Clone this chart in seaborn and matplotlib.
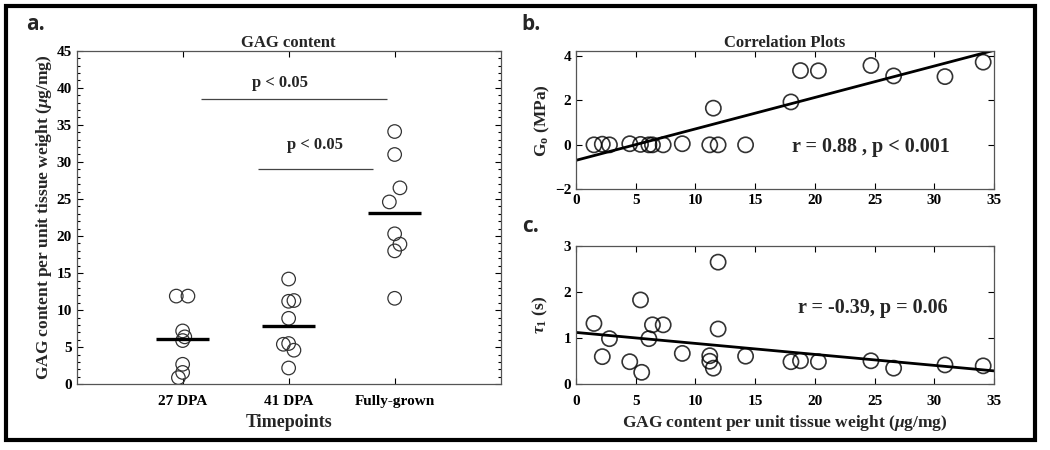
import numpy as np
import pandas as pd
import matplotlib
matplotlib.use('Agg')
import matplotlib.pyplot as plt
import seaborn as sns
from matplotlib.ticker import MultipleLocator
from matplotlib.patches import Rectangle

# panel a: GAG content per timepoint
groups = ['27 DPA', '41 DPA', 'Fully-grown']
gag_27 = [11.9, 11.9, 7.2, 6.4, 5.9, 2.7, 1.6, 0.9]
gag_41 = [14.2, 11.2, 11.3, 8.9, 5.4, 5.5, 4.6, 2.2]
gag_fg = [34.1, 31.0, 26.5, 24.6, 20.3, 18.9, 18.0, 11.6]
# horizontal spread of the circles inside each group
jit_27 = [-0.06, 0.05, 0.0, 0.02, 0.0, 0.0, 0.0, -0.04]
jit_41 = [0.0, 0.0, 0.05, 0.0, -0.05, 0.0, 0.05, 0.0]
jit_fg = [0.0, 0.0, 0.05, -0.05, 0.0, 0.05, 0.0, 0.0]

# panel b: G0 vs GAG
gag_b = [1.5, 2.2, 2.8, 4.5, 5.4, 6.1, 6.4, 7.3, 8.9, 11.2, 11.5, 11.9, 14.2,
         18.0, 18.8, 20.3, 24.7, 26.6, 30.9, 34.1]
g0 = [0.0, 0.03, 0.0, 0.05, 0.02, 0.0, 0.0, 0.0, 0.05, 0.0, 1.65, 0.0, 0.0,
      1.93, 3.34, 3.33, 3.57, 3.1, 3.07, 3.72]

# panel c: tau1 vs GAG
gag_c = [1.5, 2.2, 2.8, 4.5, 5.4, 5.5, 6.1, 6.4, 7.3, 8.9, 11.2, 11.2, 11.5,
         11.9, 11.9, 14.2, 18.0, 18.8, 20.3, 24.7, 26.6, 30.9, 34.1]
tau1 = [1.32, 0.60, 0.99, 0.49, 1.83, 0.26, 0.99, 1.29, 1.29, 0.67, 0.62, 0.50,
        0.35, 2.65, 1.20, 0.61, 0.49, 0.51, 0.49, 0.51, 0.35, 0.42, 0.40]

sns.set_theme(style='ticks')
plt.rcParams['font.family'] = ['Liberation Serif', 'DejaVu Serif']
plt.rcParams['font.weight'] = 'bold'
plt.rcParams['axes.labelweight'] = 'bold'
plt.rcParams['axes.titleweight'] = 'bold'
plt.rcParams['mathtext.fontset'] = 'custom'
plt.rcParams['mathtext.rm'] = 'Liberation Serif:bold'
plt.rcParams['mathtext.it'] = 'Liberation Serif:italic'
plt.rcParams['mathtext.bf'] = 'Liberation Serif:bold'

fig = plt.figure(figsize=(10.5, 4.5), dpi=100)

spine_col = '#555555'


def style_axes(ax, xpad=3.5):
    for s in ax.spines.values():
        s.set_visible(True)
        s.set_color(spine_col)
        s.set_linewidth(0.9)
    ax.tick_params(which='both', direction='in', top=True, right=True,
                   colors='black', labelsize=11, width=0.8)
    ax.tick_params(which='major', length=4)
    ax.tick_params(which='minor', length=2)
    ax.tick_params(axis='x', pad=xpad)
    for lab in ax.get_xticklabels() + ax.get_yticklabels():
        lab.set_fontweight('bold')


# ---- panel a
ax_a = fig.add_axes([0.0730, 0.146, 0.4038, 0.7413])
df_a = pd.DataFrame({
    'group': [groups[0]] * len(gag_27) + [groups[1]] * len(gag_41) + [groups[2]] * len(gag_fg),
    'gag': gag_27 + gag_41 + gag_fg,
    'jit': jit_27 + jit_41 + jit_fg,
})
df_a['xpos'] = df_a['group'].map({g: i + 1 for i, g in enumerate(groups)}) + df_a['jit']
sns.scatterplot(data=df_a, x='xpos', y='gag', ax=ax_a, s=95, marker='o',
                facecolor='none', edgecolor='#333333', linewidth=0.9)
means = df_a.groupby('group', sort=False)['gag'].mean()
for i, g in enumerate(groups):
    ax_a.hlines(means[g], i + 1 - 0.25, i + 1 + 0.25, color='black', lw=2.4)

ax_a.set_xlim(0, 4)
ax_a.set_ylim(0, 45)
ax_a.set_xticks([1, 2, 3])
ax_a.set_xticklabels(groups)
ax_a.yaxis.set_major_locator(MultipleLocator(5))
ax_a.yaxis.set_minor_locator(MultipleLocator(1))
style_axes(ax_a, xpad=8)
ax_a.set_xlabel('Timepoints', fontsize=13, labelpad=4)
ax_a.set_ylabel(r'GAG content per unit tissue weight ($\mu$g/mg)', fontsize=12.5, labelpad=2)
ax_a.set_title('GAG content', fontsize=12, pad=3)

# significance bars
ax_a.hlines(38.5, 1.17, 2.93, color='#444444', lw=0.9)
ax_a.text(1.92, 40.7, 'p < 0.05', ha='center', va='center', fontsize=12)
ax_a.hlines(29.05, 1.71, 2.8, color='#444444', lw=0.9)
ax_a.text(2.25, 32.3, 'p < 0.05', ha='center', va='center', fontsize=12)

# ---- panel b
ax_b = fig.add_axes([0.5486, 0.5793, 0.398, 0.3073])
ax_b.set_xlim(0, 35)
ax_b.set_ylim(-2, 4.22)
sns.regplot(x=gag_b, y=g0, ax=ax_b, ci=None, truncate=False,
            scatter_kws=dict(s=120, facecolor='none', edgecolor='black', linewidths=1.2),
            line_kws=dict(color='black', lw=2.0))
ax_b.set_xlim(0, 35)
ax_b.set_ylim(-2, 4.22)
ax_b.set_yticks([-2, 0, 2, 4])
ax_b.xaxis.set_major_locator(MultipleLocator(5))
style_axes(ax_b)
ax_b.set_ylabel(r'G$_\mathrm{o}$ (MPa)', fontsize=12.5, labelpad=2)
ax_b.set_title('Correlation Plots', fontsize=12, pad=3)
ax_b.text(0.895, 0.306, 'r = 0.88 , p < 0.001', transform=ax_b.transAxes,
          ha='right', va='center', fontsize=14.5)

# ---- panel c
ax_c = fig.add_axes([0.5486, 0.146, 0.398, 0.3073])
ax_c.set_xlim(0, 35)
ax_c.set_ylim(0, 3)
sns.regplot(x=gag_c, y=tau1, ax=ax_c, ci=None, truncate=False,
            scatter_kws=dict(s=120, facecolor='none', edgecolor='black', linewidths=1.2),
            line_kws=dict(color='black', lw=2.0))
ax_c.set_xlim(0, 35)
ax_c.set_ylim(0, 3)
ax_c.set_yticks([0, 1, 2, 3])
ax_c.xaxis.set_major_locator(MultipleLocator(5))
style_axes(ax_c, xpad=8)
ax_c.set_ylabel(r'$\tau_\mathrm{1}$ (s)', fontsize=12.5, labelpad=10)
ax_c.set_xlabel(r'GAG content per unit tissue weight ($\mu$g/mg)', fontsize=12.5, labelpad=3)
ax_c.text(0.888, 0.552, 'r = -0.39, p = 0.06', transform=ax_c.transAxes,
          ha='right', va='center', fontsize=14.5)

# panel letters
for lab, x, y in [('a.', 0.025, 0.945), ('b.', 0.497, 0.945), ('c.', 0.497, 0.496)]:
    fig.text(x, y, lab, fontsize=15, fontweight='bold', family=['Open Sans', 'DejaVu Sans'],
             va='center', ha='left')

# outer frame
fig.patches.append(Rectangle((0.006, 0.022), 0.98, 0.964, transform=fig.transFigure,
                             fill=False, edgecolor='black', lw=3, figure=fig))

fig.savefig('out.png', dpi=100)
